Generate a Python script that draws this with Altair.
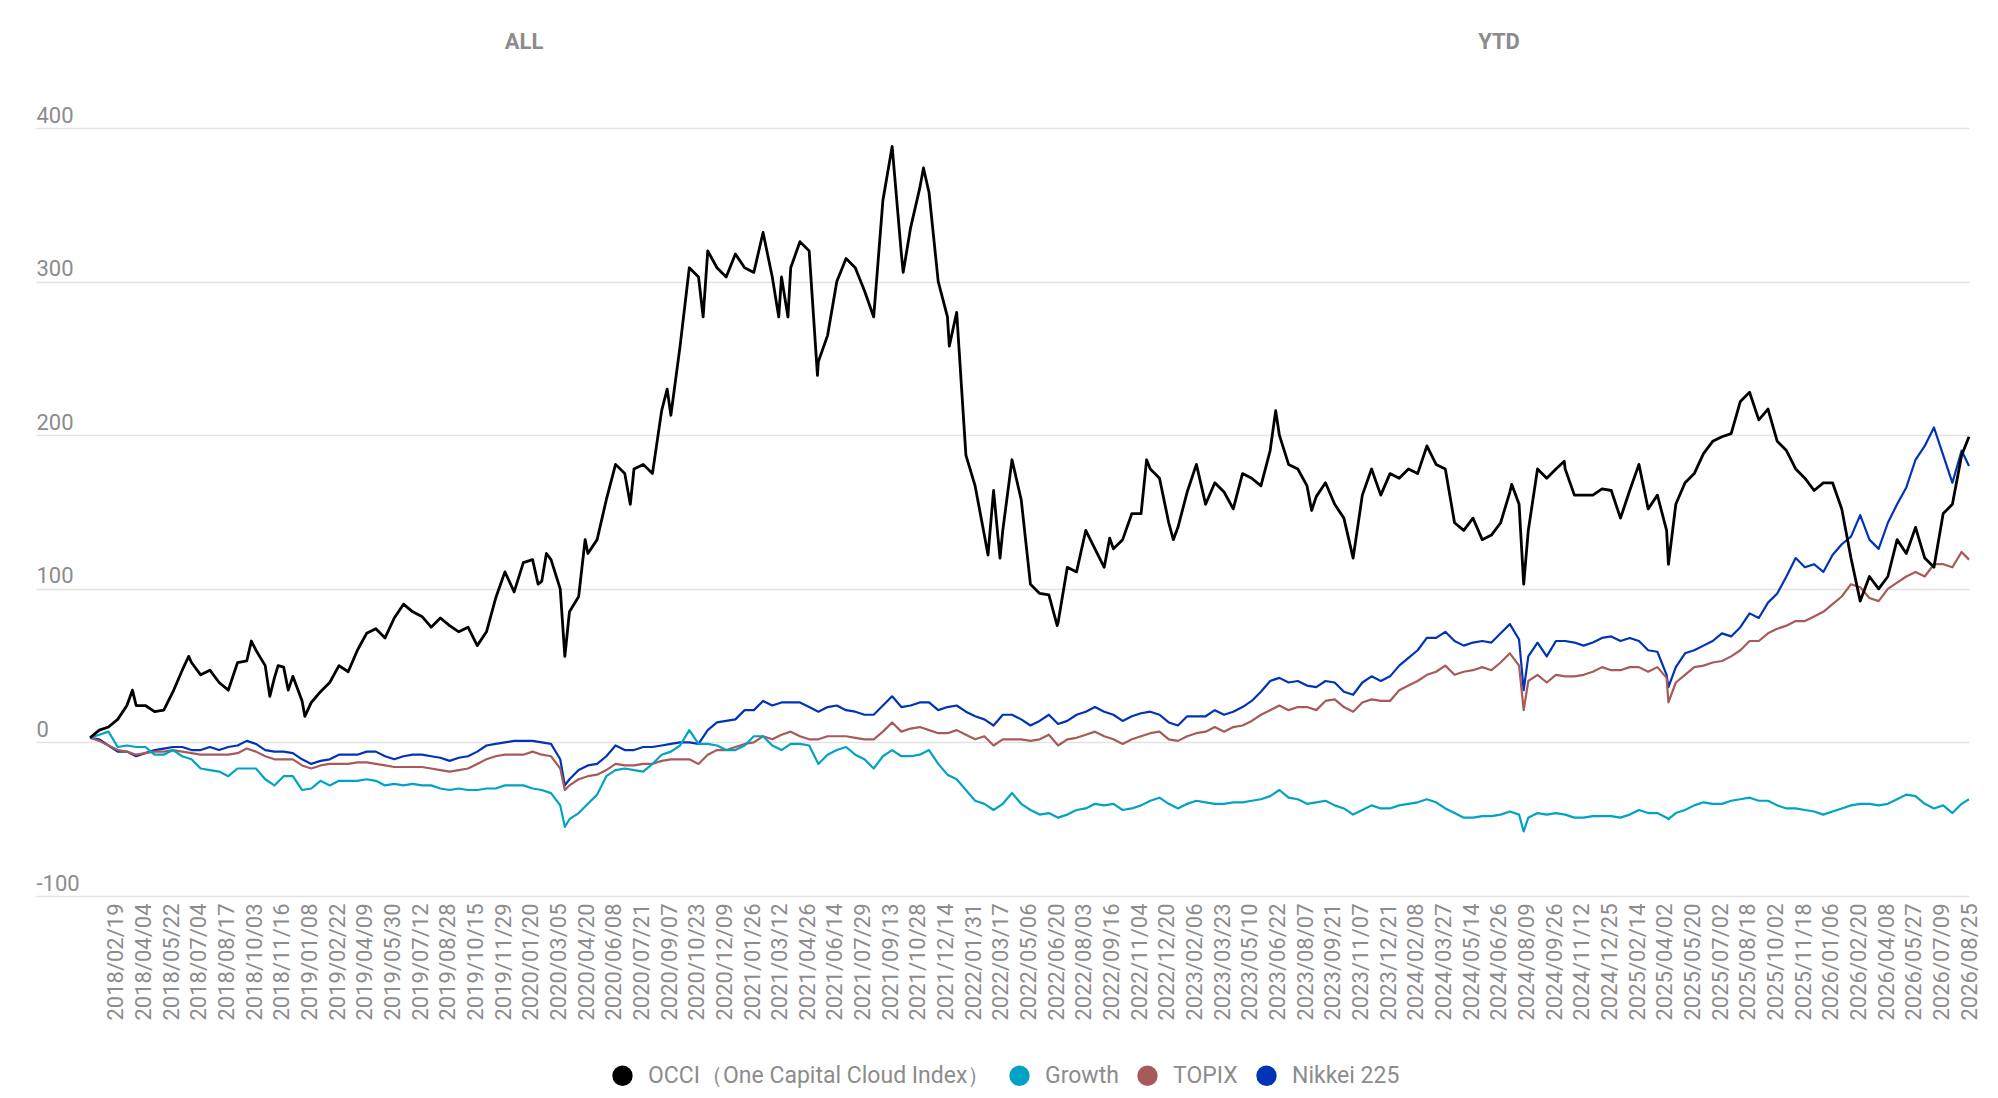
import altair as alt
import pandas as pd

# trading-day index of each sample
T = [0, 10, 20, 30, 40, 50, 60, 70, 80, 90, 100, 110, 120, 130, 140, 150, 160, 170, 180, 190,
     200, 210, 220, 230, 240, 250, 260, 270, 280, 290, 300, 310, 320, 330, 340, 350, 360, 370, 380, 390,
     400, 410, 420, 430, 440, 450, 460, 470, 480, 490, 500, 510, 515, 520, 530, 540, 550, 560, 570, 580,
     590, 600, 610, 620, 630, 640, 650, 660, 670, 680, 690, 700, 710, 720, 730, 740, 750, 760, 770, 780,
     790, 800, 810, 820, 830, 840, 850, 860, 870, 880, 890, 900, 910, 920, 930, 940, 950, 960, 970, 980,
     990, 1000, 1010, 1020, 1030, 1040, 1050, 1060, 1070, 1080, 1090, 1100, 1110, 1120, 1130, 1140, 1150, 1160, 1170, 1180,
     1190, 1200, 1210, 1220, 1230, 1240, 1250, 1260, 1270, 1280, 1290, 1300, 1310, 1320, 1330, 1340, 1350, 1360, 1370, 1380,
     1390, 1400, 1410, 1420, 1430, 1440, 1450, 1460, 1470, 1480, 1490, 1500, 1510, 1520, 1530, 1540, 1550, 1555, 1560, 1570,
     1580, 1590, 1600, 1610, 1620, 1630, 1640, 1650, 1660, 1670, 1680, 1690, 1700, 1710, 1712, 1720, 1730, 1740, 1750, 1760,
     1770, 1780, 1790, 1800, 1810, 1820, 1830, 1840, 1850, 1860, 1870, 1880, 1890, 1900, 1910, 1920, 1930, 1940, 1950, 1960,
     1970, 1980, 1990, 2000, 2010, 2020, 2030, 2038]

OCCI = [3, 8, 10, 15, 24, 24, 24, 20, 21, 33, 47, 52, 44, 47, 39, 34, 52, 53, 60, 50,
        42, 49, 43, 27, 26, 33, 39, 50, 46, 60, 71, 74, 68, 81, 90, 85, 82, 75, 81, 76,
        72, 75, 63, 72, 94, 111, 98, 117, 119, 105, 119, 100, 56, 85, 95, 123, 132, 158, 181, 175,
        178, 181, 175, 216, 213, 258, 309, 303, 320, 309, 303, 318, 309, 306, 332, 303, 303, 309, 326, 320,
        248, 265, 300, 315, 309, 294, 277, 353, 388, 318, 335, 361, 358, 300, 277, 280, 187, 167, 135, 164,
        138, 184, 158, 103, 97, 96, 78, 114, 111, 138, 126, 114, 126, 132, 149, 149, 178, 172, 143, 140,
        163, 181, 155, 169, 163, 152, 175, 172, 167, 190, 200, 181, 178, 167, 160, 169, 155, 146, 120, 161,
        178, 161, 175, 172, 178, 175, 193, 181, 178, 143, 138, 146, 132, 135, 143, 163, 155, 103, 138, 178,
        172, 178, 178, 161, 161, 161, 165, 164, 146, 164, 181, 152, 161, 138, 116, 155, 169, 175, 188, 196,
        199, 201, 222, 228, 210, 217, 196, 190, 178, 172, 164, 169, 169, 152, 120, 92, 108, 100, 108, 132,
        123, 140, 120, 114, 149, 155, 187, 199]

# extra OCCI readings at local peaks / troughs between the regular samples
OCCI_EXTRA_T = [46, 107, 175, 195, 204, 215, 233, 486, 495, 537, 586, 626, 665, 747, 757, 789,
                882, 904, 932, 974, 987, 1049, 1106, 1146, 1175, 1286, 1325, 1542, 1599]
OCCI_EXTRA_V = [34, 56, 66, 30, 50, 34, 17, 103, 123, 132, 155, 230, 277, 277, 277, 239,
                306, 374, 258, 122, 120, 76, 133, 184, 132, 216, 151, 168, 183]

GROWTH = [3, 5, 7, -3, -2, -3, -3, -8, -8, -5, -9, -11, -17, -18, -19, -22, -17, -17, -17, -24,
          -28, -22, -22, -31, -30, -25, -28, -25, -25, -25, -24, -25, -28, -27, -28, -27, -28, -28, -30, -31,
          -30, -31, -31, -30, -30, -28, -28, -28, -30, -31, -33, -41, -55, -50, -46, -40, -34, -22, -18, -17,
          -18, -19, -14, -8, -6, -2, 8, -1, -1, -2, -5, -5, -2, 4, 4, -2, -5, -1, -1, -2,
          -14, -8, -5, -3, -8, -11, -17, -9, -5, -9, -9, -8, -5, -14, -21, -24, -31, -38, -40, -44,
          -40, -33, -40, -44, -47, -46, -49, -47, -44, -43, -40, -41, -40, -44, -43, -41, -38, -36, -40, -43,
          -40, -38, -39, -40, -40, -39, -39, -38, -37, -35, -31, -36, -37, -40, -39, -38, -41, -43, -47, -44,
          -41, -43, -43, -41, -40, -39, -37, -39, -43, -46, -49, -49, -48, -48, -47, -45, -47, -58, -49, -46,
          -47, -46, -47, -49, -49, -48, -48, -48, -49, -47, -44, -46, -46, -49, -50, -46, -44, -41, -39, -40,
          -40, -38, -37, -36, -38, -38, -41, -43, -43, -44, -45, -47, -45, -43, -41, -40, -40, -41, -40, -37,
          -34, -35, -40, -43, -41, -46, -40, -37]

TOPIX = [3, 1, -2, -5, -6, -8, -7, -6, -6, -5, -6, -7, -8, -8, -8, -8, -7, -4, -6, -9,
         -11, -11, -11, -15, -17, -15, -14, -14, -14, -13, -13, -14, -15, -16, -16, -16, -16, -17, -18, -19,
         -18, -17, -14, -11, -9, -8, -8, -8, -6, -8, -9, -17, -31, -28, -24, -22, -21, -18, -14, -15,
         -15, -14, -14, -12, -11, -11, -11, -14, -8, -5, -5, -3, -1, 0, 4, 2, 5, 7, 4, 2,
         2, 4, 4, 4, 3, 2, 2, 7, 13, 7, 9, 10, 8, 6, 6, 8, 5, 2, 4, -2,
         2, 2, 2, 1, 2, 5, -2, 2, 3, 5, 7, 4, 2, -1, 2, 4, 6, 7, 2, 1,
         4, 6, 7, 10, 7, 10, 11, 14, 18, 21, 24, 21, 23, 23, 21, 27, 28, 23, 20, 26,
         28, 27, 27, 34, 37, 40, 44, 46, 50, 44, 46, 47, 49, 47, 52, 58, 50, 21, 40, 44,
         39, 44, 43, 43, 44, 46, 49, 47, 47, 49, 49, 46, 49, 42, 26, 39, 44, 49, 50, 52,
         53, 56, 60, 66, 66, 71, 74, 76, 79, 79, 82, 85, 90, 95, 103, 101, 94, 92, 100, 104,
         108, 111, 108, 116, 116, 114, 124, 119]

NIKKEI = [3, 2, -2, -6, -6, -9, -7, -5, -4, -3, -3, -5, -5, -3, -5, -3, -2, 1, -1, -5,
          -6, -6, -7, -11, -14, -12, -11, -8, -8, -8, -6, -6, -9, -11, -9, -8, -8, -9, -10, -12,
          -10, -9, -6, -2, -1, 0, 1, 1, 1, 0, -1, -11, -28, -24, -18, -15, -14, -9, -2, -5,
          -5, -3, -3, -2, -1, 0, 0, -1, 8, 13, 14, 15, 21, 21, 27, 24, 26, 26, 26, 23,
          20, 23, 24, 21, 20, 18, 18, 24, 30, 23, 24, 26, 26, 21, 23, 24, 20, 17, 15, 11,
          18, 18, 15, 11, 14, 18, 12, 14, 18, 20, 23, 20, 18, 14, 17, 19, 20, 18, 13, 11,
          17, 17, 17, 21, 18, 20, 23, 27, 33, 40, 42, 39, 40, 37, 36, 40, 39, 33, 31, 39,
          43, 40, 43, 50, 55, 60, 68, 68, 72, 66, 63, 65, 66, 65, 71, 77, 67, 34, 56, 65,
          56, 66, 66, 65, 63, 65, 68, 69, 66, 68, 66, 60, 59, 44, 36, 49, 58, 60, 63, 66,
          71, 69, 75, 84, 81, 91, 97, 108, 120, 114, 116, 111, 122, 129, 134, 148, 132, 126, 143, 155,
          166, 184, 193, 205, 187, 169, 190, 180]

# x-axis tick labels (one every 30 trading days, first at index 28)
LABEL_DATES = [
    "2018/02/19", "2018/04/04", "2018/05/22", "2018/07/04", "2018/08/17", "2018/10/03", "2018/11/16",
    "2019/01/08", "2019/02/22", "2019/04/09", "2019/05/30", "2019/07/12", "2019/08/28", "2019/10/15", "2019/11/29",
    "2020/01/20", "2020/03/05", "2020/04/20", "2020/06/08", "2020/07/21", "2020/09/07", "2020/10/23", "2020/12/09",
    "2021/01/26", "2021/03/12", "2021/04/26", "2021/06/14", "2021/07/29", "2021/09/13", "2021/10/28", "2021/12/14",
    "2022/01/31", "2022/03/17", "2022/05/06", "2022/06/20", "2022/08/03", "2022/09/16", "2022/11/04", "2022/12/20",
    "2023/02/06", "2023/03/23", "2023/05/10", "2023/06/22", "2023/08/07", "2023/09/21", "2023/11/07", "2023/12/21",
    "2024/02/08", "2024/03/27", "2024/05/14", "2024/06/26", "2024/08/09", "2024/09/26", "2024/11/12", "2024/12/25",
    "2025/02/14", "2025/04/02", "2025/05/20", "2025/07/02", "2025/08/18", "2025/10/02", "2025/11/18",
    "2026/01/06", "2026/02/20", "2026/04/08", "2026/05/27", "2026/07/09", "2026/08/25",
]
LABEL_FIRST = 28
LABEL_STEP = 30
Y_TICKS = [-100, 0, 100, 200, 300, 400]

SERIES = ["OCCI（One Capital Cloud Index）", "Growth", "TOPIX", "Nikkei 225"]
COLORS = ["#000000", "#00a3c4", "#a65b5a", "#0033b5"]
TABS = ["ALL", "YTD"]

rows = []
for t, v in list(zip(T, OCCI)) + list(zip(OCCI_EXTRA_T, OCCI_EXTRA_V)):
    rows.append({"t": t, "v": v, "series": SERIES[0]})
for name, vals in [(SERIES[1], GROWTH), (SERIES[2], TOPIX), (SERIES[3], NIKKEI)]:
    for t, v in zip(T, vals):
        rows.append({"t": t, "v": v, "series": name})
df = pd.DataFrame(rows).sort_values(["series", "t"]).reset_index(drop=True)

tick_vals = [LABEL_FIRST + LABEL_STEP * k for k in range(len(LABEL_DATES))]
arr = "[" + ",".join("'" + d + "'" for d in LABEL_DATES) + "]"
label_expr = f"{arr}[round((datum.value - {LABEL_FIRST}) / {LABEL_STEP})]"

GRAY = "#8c8c8c"
FONT = "Roboto"

x_enc = alt.X(
    "t:Q",
    scale=alt.Scale(domain=[-58.6, T[-1]], nice=False, zero=False),
    axis=alt.Axis(
        values=tick_vals, labelExpr=label_expr, labelAngle=270, labelFontSize=22,
        labelColor=GRAY, labelFont=FONT, grid=False, domain=False, ticks=False,
        tickSize=0, labelPadding=7, labelFlush=False, labelOverlap=False, title=None,
    ),
)
y_enc = alt.Y(
    "v:Q",
    scale=alt.Scale(domain=[-100, 400], nice=False, zero=False),
    axis=alt.Axis(
        values=Y_TICKS, labelExpr="datum.value + ''", labelAlign="left",
        labelBaseline="alphabetic", labelPadding=0, labelOffset=-6, ticks=False,
        tickSize=0, domain=False, grid=True, gridColor="#e3e3e3", gridWidth=1.5,
        labelFontSize=22, labelColor=GRAY, labelFont=FONT, labelOverlap=False, title=None,
    ),
)
color_enc = alt.Color("series:N", scale=alt.Scale(domain=SERIES, range=COLORS), legend=None)

draw_order = [SERIES[3], SERIES[2], SERIES[1], SERIES[0]]
layers = []
for name in draw_order:
    sw = 2.8 if name == SERIES[0] else 2.2
    layers.append(
        alt.Chart(df)
        .transform_filter(alt.datum.series == name)
        .mark_line(strokeWidth=sw, strokeJoin="round")
        .encode(x=x_enc, y=y_enc, color=color_enc, order="t:Q")
    )

# legend-only layer: no rows pass the filter, the legend is built from the fill scale
legend_df = pd.DataFrame({"name": SERIES})
layers.append(
    alt.Chart(legend_df)
    .transform_filter(alt.datum.name == "__none__")
    .mark_circle(opacity=1)
    .encode(
        fill=alt.Fill(
            "name:N",
            scale=alt.Scale(domain=SERIES, range=COLORS),
            legend=alt.Legend(
                orient="none", legendX=575, legendY=936, direction="horizontal", title=None,
                symbolType="circle", symbolSize=415, symbolStrokeWidth=0, symbolOpacity=1,
                labelFontSize=23, labelColor=GRAY, labelFont=FONT, labelLimit=0,
                labelOffset=14, columnPadding=17, padding=0,
            ),
        )
    )
)

tab_x = {"ALL": 488, "YTD": 1463}
for tab in TABS:
    layers.append(
        alt.Chart(pd.DataFrame({"tab": [tab]}))
        .mark_text(fontSize=22, fontWeight="bold", color=GRAY, font=FONT,
                   align="center", baseline="alphabetic")
        .encode(x=alt.value(tab_x[tab]), y=alt.value(-79), text="tab:N")
    )

chart = (
    alt.layer(*layers)
    .resolve_scale(color="independent", fill="independent")
    .properties(
        width=1933, height=768,
        autosize=alt.AutoSizeParams(type="none"),
        padding={"left": 28, "top": 120, "right": 18, "bottom": 192},
    )
    .configure(font=FONT, background="white")
    .configure_view(stroke="transparent")
)

chart.save("out.html", embed_options={"renderer": "svg", "actions": False})
